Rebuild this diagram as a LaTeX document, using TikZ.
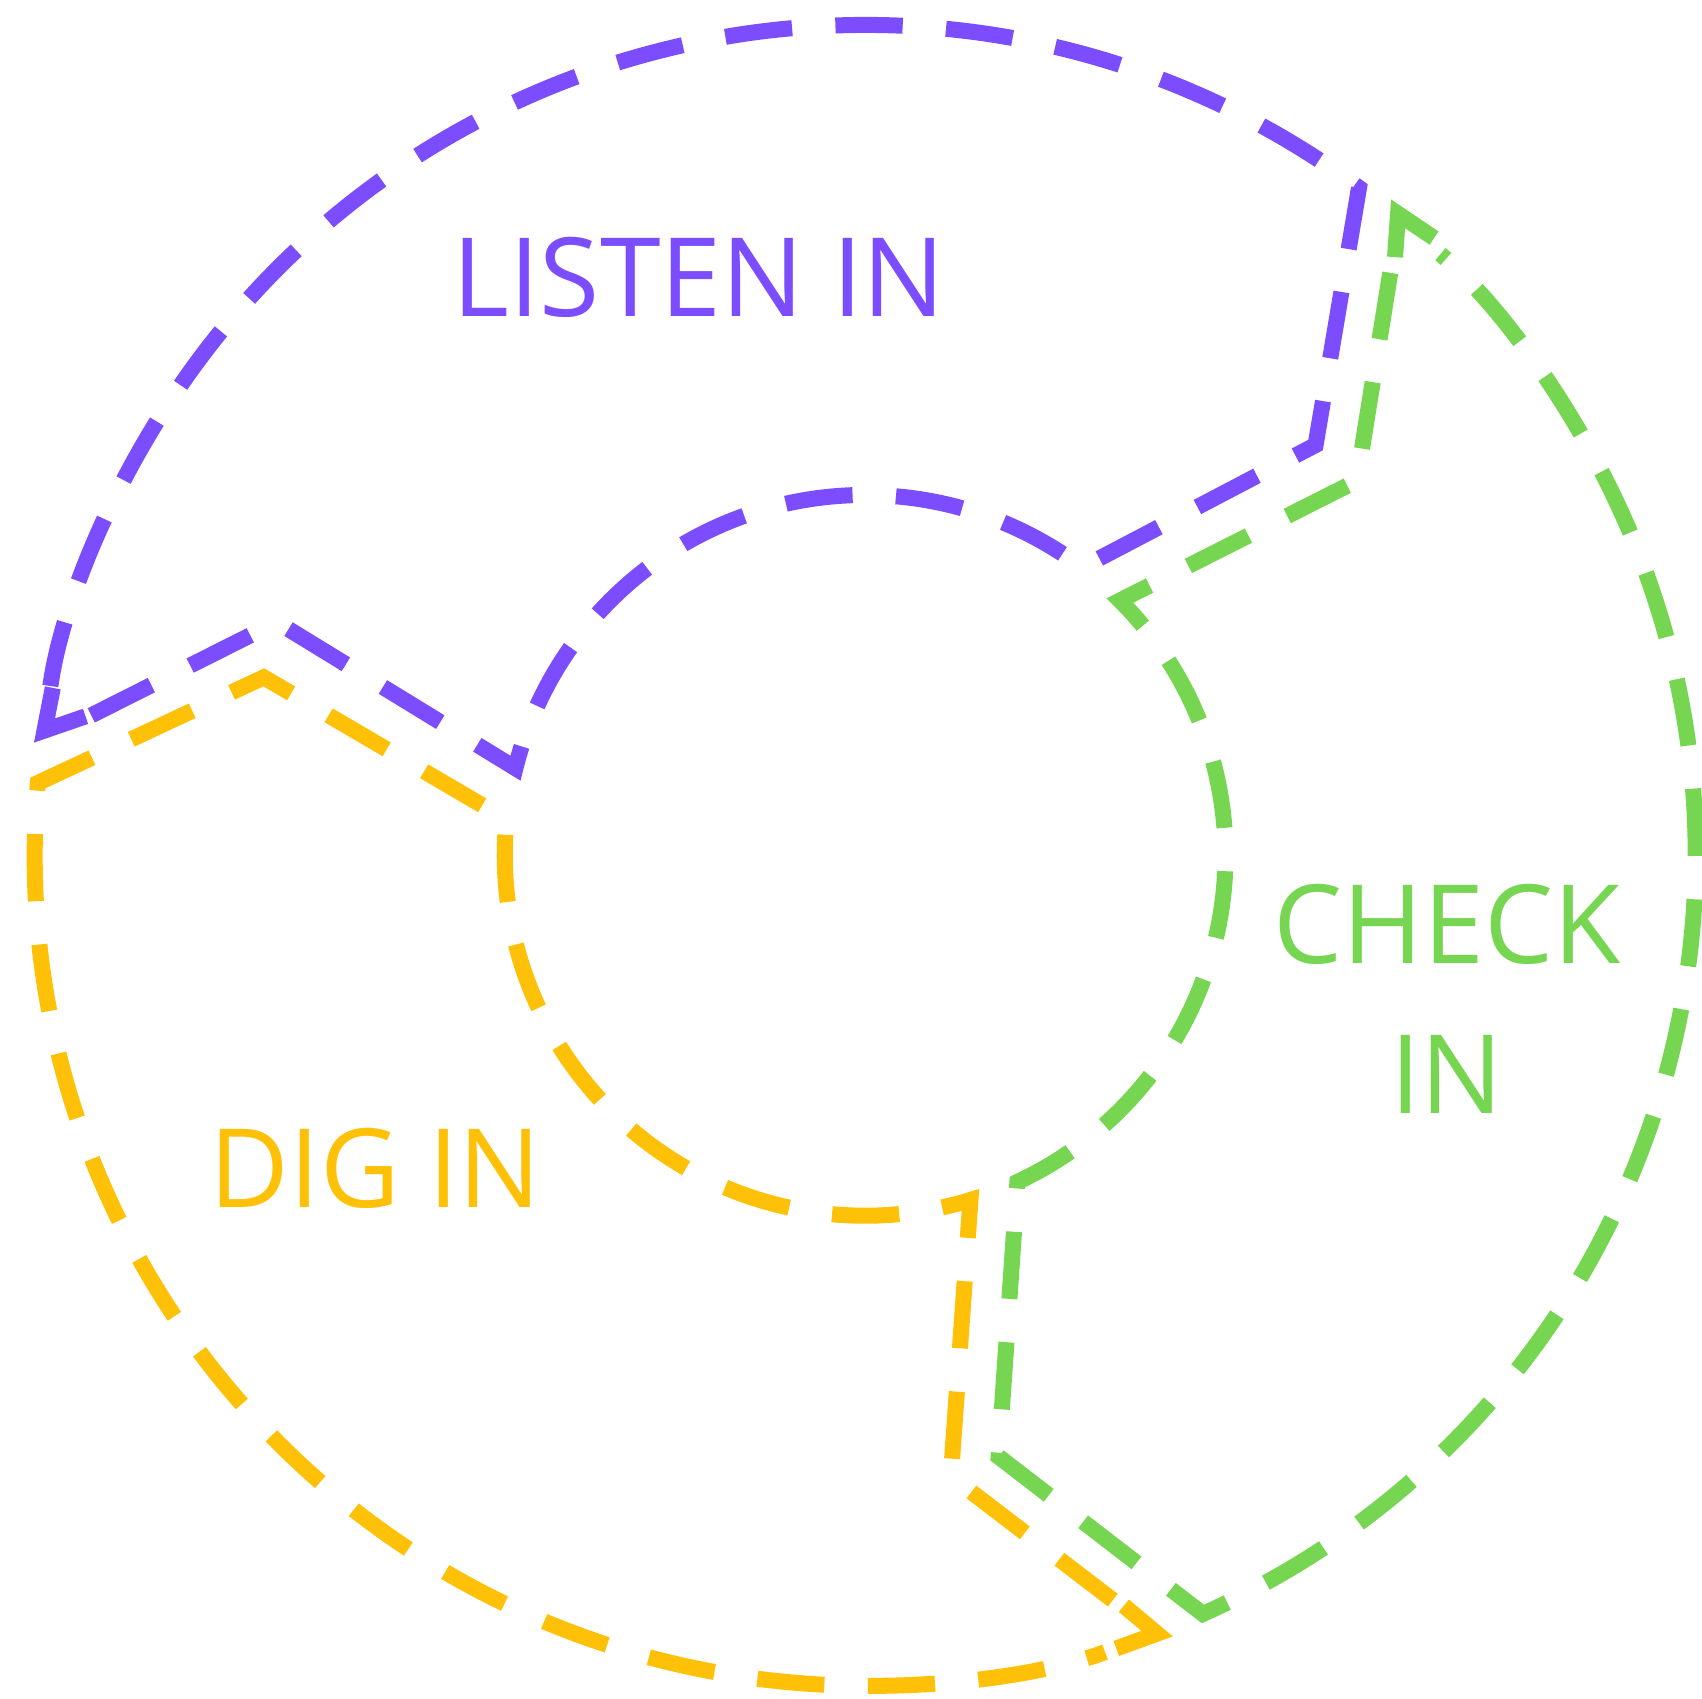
\documentclass[tikz,border=0pt]{standalone}
\usepackage{fontspec}
\setmainfont{Open Sans}
\usepackage{xcolor}
\usepackage{tikz}
\definecolor{listenpurple}{RGB}{124,77,255}
\definecolor{checkgreen}{RGB}{118,214,82}
\definecolor{digyellow}{RGB}{255,193,7}

\begin{document}
\begin{tikzpicture}[x=1cm,y=1cm, every node/.style={font=\fontsize{28.7}{39.4}\selectfont}]
  \tikzstyle{loopline}=[line width=4.2pt, dash pattern=on 0.62cm off 0.4cm, shorten <=0.5cm, shorten >=0.5cm]
  \tikzstyle{cornertip}=[line width=4.2pt, line join=miter, miter limit=10]
  \useasboundingbox (-7.97,-7.77) rectangle (7.71,7.88);
  \coordinate (li0) at (172:7.65);
  \coordinate (li1) at (-5.42,2.15);
  \coordinate (li2) at (166:3.32);
  \coordinate (li3) at (4.15,3.78);
  \coordinate (li4) at (53.5:7.65);
  \coordinate (litip) at (-7.56,1.15);
  \coordinate (ch0) at (50:7.65);
  \coordinate (ch1) at (4.53,3.45);
  \coordinate (ch2) at (45:3.32);
  \coordinate (ch3) at (1.23,-5.54);
  \coordinate (ch4) at (-66:7.65);
  \coordinate (chtip) at (4.91,5.91);
  \coordinate (di0) at (-69.5:7.65);
  \coordinate (di1) at (0.79,-5.72);
  \coordinate (di2) at (-73:3.32);
  \coordinate (di3) at (-5.54,1.64);
  \coordinate (di4) at (175:7.65);
  \coordinate (ditip) at (2.69,-7.17);
  \draw[loopline, listenpurple] (li0) -- (li1) -- (li2) arc[start angle=166, end angle=53, radius=3.32] -- (li3) -- (li4) arc[start angle=53.5, end angle=172, radius=7.65];
  \draw[loopline, checkgreen] (ch0) -- (ch1) -- (ch2) arc[start angle=45, end angle=-65, radius=3.32] -- (ch3) -- (ch4) arc[start angle=-66, end angle=50, radius=7.65];
  \draw[loopline, digyellow] (di0) -- (di1) -- (di2) arc[start angle=-73, end angle=-185.7, radius=3.32] -- (di3) -- (di4) arc[start angle=175, end angle=290.5, radius=7.65];
  \draw[cornertip, listenpurple] ([shift={(79:0.4)}]litip) -- (litip) -- ([shift={(19:0.4)}]litip);
  \draw[cornertip, checkgreen] ([shift={(266:0.4)}]chtip) -- (chtip) -- ([shift={(326:0.4)}]chtip);
  \draw[cornertip, digyellow] ([shift={(140:0.4)}]ditip) -- (ditip) -- ([shift={(200:0.4)}]ditip);
  \node[listenpurple, anchor=base] (listen) at (-1.53,4.96) {LISTEN IN};
  \node[checkgreen, align=center] (check) at (5.36,-1.32) {CHECK\\IN};
  \node[digyellow, anchor=base] (dig) at (-4.51,-3.24) {DIG IN};
\end{tikzpicture}
\end{document}
